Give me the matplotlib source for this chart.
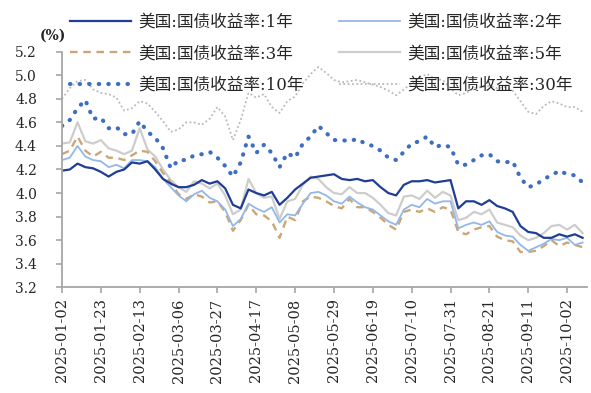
import numpy as np
import matplotlib
matplotlib.use("Agg")
import matplotlib.pyplot as plt

plt.rcParams['font.family'] = ['DejaVu Serif', 'Noto Sans CJK SC']

# trading-day index (every 3rd weekday starting 2025-01-02)
day_index = list(range(0, 202, 3))
tick_pos = list(range(0, 196, 15))
tick_labels = ['2025-01-02', '2025-01-23', '2025-02-13', '2025-03-06', '2025-03-27',
               '2025-04-17', '2025-05-08', '2025-05-29', '2025-06-19', '2025-07-10',
               '2025-07-31', '2025-08-21', '2025-09-11', '2025-10-02']

names = ['美国:国债收益率:1年', '美国:国债收益率:2年', '美国:国债收益率:3年',
         '美国:国债收益率:5年', '美国:国债收益率:10年', '美国:国债收益率:30年']

y1 = [4.19, 4.20, 4.25, 4.22, 4.21, 4.18, 4.14, 4.18, 4.20, 4.26,
      4.25, 4.27, 4.20, 4.12, 4.08, 4.05, 4.05, 4.07, 4.11, 4.08,
      4.10, 4.04, 3.90, 3.87, 4.03, 4.00, 3.98, 4.01, 3.90, 3.96,
      4.03, 4.08, 4.13, 4.14, 4.15, 4.16, 4.12, 4.11, 4.12, 4.10,
      4.11, 4.05, 4.00, 3.98, 4.07, 4.10, 4.10, 4.11, 4.09, 4.10,
      4.11, 3.87, 3.93, 3.93, 3.90, 3.94, 3.89, 3.87, 3.84, 3.72,
      3.67, 3.66, 3.62, 3.62, 3.65, 3.63, 3.65, 3.62]

y2 = [4.28, 4.30, 4.40, 4.31, 4.28, 4.27, 4.22, 4.24, 4.21, 4.28,
      4.28, 4.27, 4.22, 4.12, 4.05, 3.98, 3.93, 3.99, 4.02, 3.96,
      3.93, 3.86, 3.72, 3.78, 3.91, 3.87, 3.84, 3.88, 3.75, 3.82,
      3.81, 3.91, 4.00, 4.01, 3.98, 3.93, 3.91, 3.97, 3.92, 3.88,
      3.86, 3.81, 3.76, 3.73, 3.86, 3.90, 3.88, 3.95, 3.91, 3.93,
      3.93, 3.70, 3.73, 3.75, 3.73, 3.76, 3.67, 3.64, 3.63, 3.56,
      3.51, 3.54, 3.57, 3.61, 3.60, 3.62, 3.56, 3.58]

y3 = [4.33, 4.36, 4.48, 4.36, 4.31, 4.35, 4.30, 4.30, 4.28, 4.32,
      4.36, 4.35, 4.27, 4.17, 4.09, 3.99, 3.95, 3.99, 3.97, 3.92,
      3.93, 3.84, 3.68, 3.77, 3.90, 3.82, 3.81, 3.76, 3.62, 3.80,
      3.77, 3.93, 3.97, 3.96, 3.93, 3.89, 3.87, 3.95, 3.88, 3.88,
      3.84, 3.79, 3.73, 3.69, 3.84, 3.86, 3.84, 3.87, 3.84, 3.88,
      3.86, 3.67, 3.65, 3.69, 3.71, 3.72, 3.63, 3.60, 3.59, 3.50,
      3.50, 3.51, 3.55, 3.60, 3.55, 3.58, 3.56, 3.54]

y5 = [4.42, 4.43, 4.60, 4.44, 4.42, 4.45, 4.38, 4.36, 4.33, 4.36,
      4.55, 4.37, 4.31, 4.20, 4.11, 4.05, 4.01, 4.10, 4.08, 4.04,
      4.08, 3.98, 3.82, 3.86, 4.12, 4.00, 3.96, 3.97, 3.78, 3.93,
      3.95, 4.07, 4.14, 4.12, 4.05, 4.00, 3.99, 4.05, 4.00, 4.00,
      3.96, 3.90, 3.83, 3.81, 3.97, 3.98, 3.95, 4.02, 3.96, 4.01,
      3.98, 3.77, 3.79, 3.84, 3.82, 3.86, 3.75, 3.73, 3.71, 3.64,
      3.60, 3.62, 3.66, 3.72, 3.73, 3.69, 3.73, 3.66]

y10 = [4.57, 4.62, 4.72, 4.79, 4.63, 4.64, 4.55, 4.56, 4.50, 4.50,
       4.61, 4.52, 4.47, 4.38, 4.21, 4.28, 4.28, 4.32, 4.33, 4.35,
       4.30, 4.23, 4.14, 4.26, 4.48, 4.34, 4.41, 4.34, 4.22, 4.34,
       4.30, 4.42, 4.48, 4.57, 4.51, 4.45, 4.45, 4.44, 4.46, 4.42,
       4.40, 4.36, 4.30, 4.28, 4.35, 4.42, 4.44, 4.48, 4.39, 4.41,
       4.39, 4.24, 4.24, 4.28, 4.32, 4.33, 4.27, 4.26, 4.27, 4.13,
       4.05, 4.07, 4.12, 4.15, 4.19, 4.16, 4.15, 4.09]

y30 = [4.80, 4.89, 4.95, 4.96, 4.88, 4.85, 4.84, 4.81, 4.70, 4.72,
       4.78, 4.76, 4.69, 4.61, 4.52, 4.54, 4.60, 4.60, 4.58, 4.63,
       4.73, 4.65, 4.45, 4.62, 4.85, 4.81, 4.84, 4.73, 4.68, 4.78,
       4.82, 4.93, 5.01, 5.07, 5.02, 4.96, 4.94, 4.95, 4.96, 4.94,
       4.92, 4.90, 4.87, 4.83, 4.88, 4.93, 4.98, 5.01, 4.97, 4.96,
       4.89, 4.83, 4.85, 4.89, 4.90, 4.91, 4.89, 4.90, 4.87, 4.78,
       4.69, 4.67, 4.74, 4.78, 4.76, 4.73, 4.73, 4.69]

W, H = 591, 393
fig = plt.figure(figsize=(W / 100, H / 100), dpi=100)
ax = fig.add_axes([62 / W, 1 - 287.3 / H, 525 / W, (287.3 - 51.7) / H])

l30, = ax.plot(day_index, y30, color='#b9b9b9', lw=1.3, linestyle=(0, (1.0, 1.4)))
l10, = ax.plot(day_index, y10, color='#3e6ec2', lw=3.0, linestyle=(0, (0.1, 2.2)),
               dash_capstyle='round')
l5, = ax.plot(day_index, y5, color='#cdcdcd', lw=1.6)
l3, = ax.plot(day_index, y3, color='#caa776', lw=1.7, linestyle=(0, (3.2, 2.4)))
l2, = ax.plot(day_index, y2, color='#93b7e6', lw=1.3)
l1, = ax.plot(day_index, y1, color='#1f3d94', lw=1.6)

ax.set_xlim(0, 202.7)
ax.set_ylim(3.2, 5.2)
yt = np.round(np.arange(3.2, 5.21, 0.2), 1)
ax.set_yticks(yt)
ax.set_yticklabels([f'{v:.1f}' for v in yt])
ax.set_xticks(tick_pos)
ax.set_xticklabels(tick_labels, rotation=90)

for s in ['top', 'right']:
    ax.spines[s].set_visible(False)
for s in ['left', 'bottom']:
    ax.spines[s].set_color('#a6a6a6')
    ax.spines[s].set_linewidth(1.3)

txtc = '#262626'
ax.tick_params(axis='y', direction='out', length=4, width=1.2, color='#a6a6a6',
               pad=14, labelsize=10, labelcolor=txtc)
ax.tick_params(axis='x', direction='out', length=4.5, width=1.2, color='#a6a6a6',
               pad=3.5, labelsize=10.5, labelcolor=txtc)

handles = [l1, l3, l10, l2, l5, l30]
labels = [names[0], names[2], names[4], names[1], names[3], names[5]]
leg = fig.legend(handles, labels, loc='upper left', bbox_to_anchor=(70 / W, 1 - 14 / H),
                 ncol=2, frameon=False, fontsize=12, handlelength=3.67,
                 handletextpad=0.4, columnspacing=2.15, labelspacing=0.86,
                 borderpad=0, borderaxespad=0)
for t in leg.get_texts():
    t.set_color(txtc)

fig.text(53 / W, 1 - 36 / H, '(%)', ha='center', va='center', fontsize=10,
         weight='bold', color=txtc)

fig.savefig('out.png', dpi=100)
